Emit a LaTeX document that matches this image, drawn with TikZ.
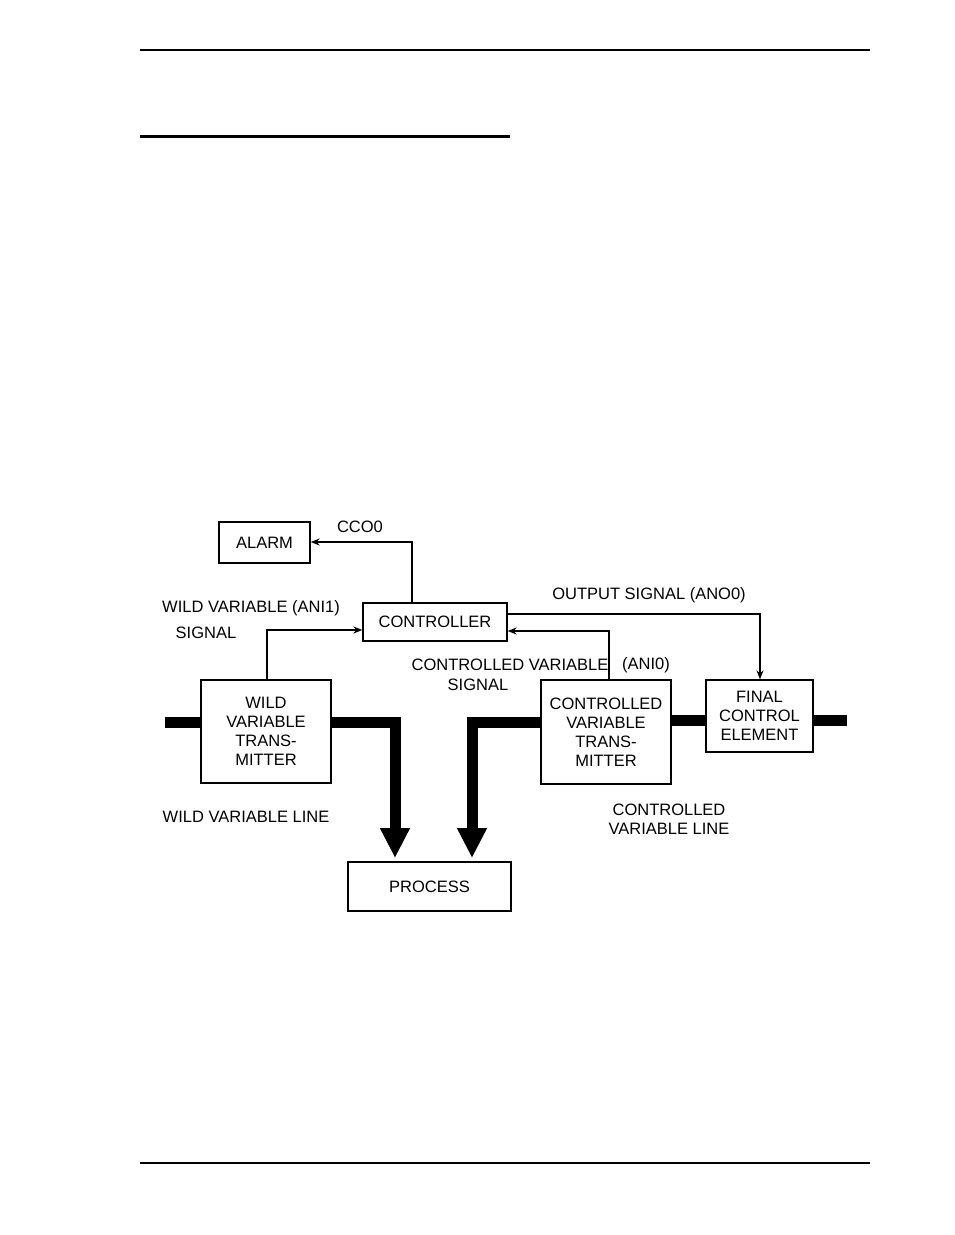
\documentclass[tikz,border=0pt]{standalone}
\usepackage{fontspec}
\setmainfont{Liberation Sans}
\usetikzlibrary{arrows.meta}
\tikzset{
  blk/.style={draw,line width=1.3pt,inner sep=0pt,align=center,font=\fontsize{16.5}{19}\selectfont},
  lbl/.style={font=\fontsize{16.5}{19}\selectfont,inner sep=0pt,align=center},
  sig/.style={line width=1.6pt,-{Stealth[length=9pt,width=7pt]}},
  pipe/.style={line width=11pt},
  pipearrow/.style={line width=11pt,-{Triangle[length=30pt,width=28pt]}}
}
\begin{document}
\begin{tikzpicture}[x=1pt,y=-1pt]
\useasboundingbox (0,0) rectangle (954,1235);
% page rules
\draw[line width=1.5pt] (140,50) -- (870,50);
\draw[line width=3pt] (140,136) -- (510,136);
\draw[line width=1.5pt] (140,1163) -- (870,1163);
% blocks
\node[blk,minimum width=91pt,minimum height=41pt] (alarm) at (264.5,542.5) {ALARM};
\node[blk,minimum width=144pt,minimum height=38pt] (ctrl) at (435,622) {CONTROLLER};
\node[blk,minimum width=130pt,minimum height=103pt] (wvt) at (266,731.5) {WILD\\VARIABLE\\TRANS-\\MITTER};
\node[blk,minimum width=130pt,minimum height=104pt] (cvt) at (606,732) {CONTROLLED\\VARIABLE\\TRANS-\\MITTER};
\node[blk,minimum width=107pt,minimum height=72pt] (fce) at (759.5,716) {FINAL\\CONTROL\\ELEMENT};
\node[blk,minimum width=163pt,minimum height=49pt] (proc) at (429.5,886.5) {PROCESS};
% signals
\draw[sig] (ctrl.north -| 412,0) -- (412,542) -- (alarm.east |- 0,542);
\draw[sig] (ctrl.east |- 0,614) -- (760,614) -- (fce.north -| 760,0);
\draw[sig] (wvt.north -| 267,0) -- (267,630) -- (ctrl.west |- 0,630);
\draw[sig] (cvt.north -| 609,0) -- (609,631) -- (ctrl.east |- 0,631);
% process lines
\coordinate (lin) at (165,722);
\coordinate (rout) at (847,720);
\draw[pipe] (lin) -- (wvt.west |- lin);
\draw[pipearrow] (wvt.east |- 0,722) -- (395,722) -- (395,858);
\draw[pipearrow] (cvt.west |- 0,722) -- (472,722) -- (472,858);
\draw[pipe] (cvt.east |- 0,720) -- (fce.west |- 0,720);
\draw[pipe] (fce.east |- rout) -- (rout);
% labels
\node[lbl] (lcco) at (360,527) {CCO0};
\node[lbl] (lout) at (649,595) {OUTPUT SIGNAL (ANO0)};
\node[lbl] (lwild) at (251,608) {WILD VARIABLE (ANI1)};
\node[lbl] (lwsig) at (206,633) {SIGNAL};
\node[lbl] (lcv) at (510,665) {CONTROLLED VARIABLE};
\node[lbl] (lani) at (646,665) {(ANI0)};
\node[lbl] (lcsig) at (478,685) {SIGNAL};
\node[lbl] (lwline) at (246,817) {WILD VARIABLE LINE};
\node[lbl] (lcline) at (669,819) {CONTROLLED\\VARIABLE LINE};
\end{tikzpicture}
\end{document}
